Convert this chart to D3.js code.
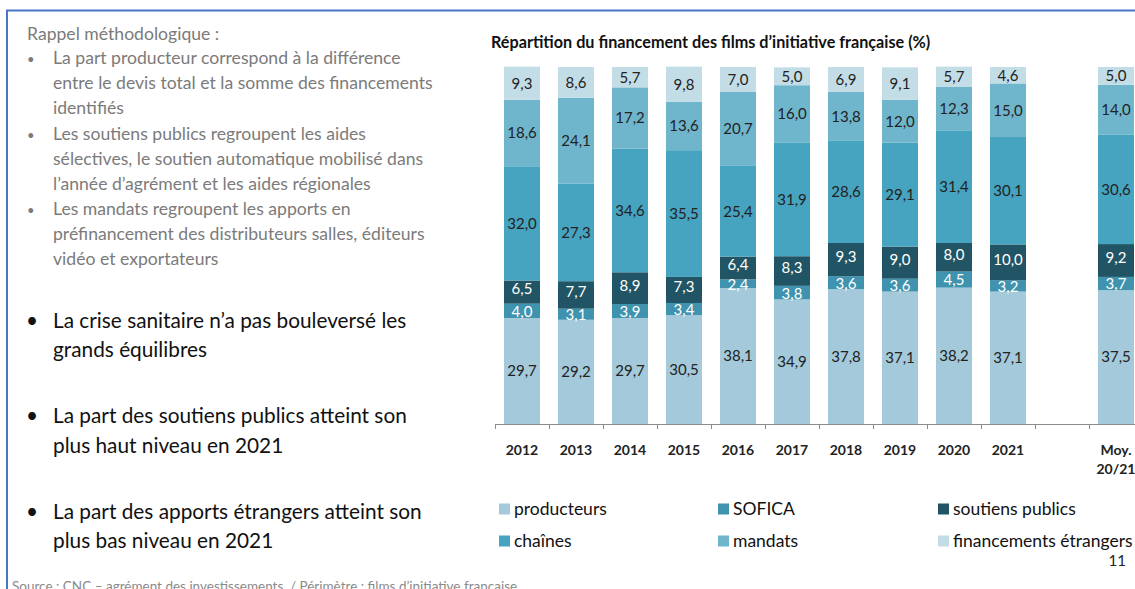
<!DOCTYPE html>
<html>
<head>
<meta charset="utf-8">
<script src="https://cdn.jsdelivr.net/npm/d3@7"></script>
<style>
  body { margin: 0; background: #fff; }
  svg { display: block; font-family: Lato, "Open Sans", sans-serif; }
</style>
</head>
<body>
<svg id="slide" width="1135" height="589"></svg>
<script>
// data
const categories = ['2012', '2013', '2014', '2015', '2016', '2017', '2018', '2019', '2020', '2021', 'Moy. 20/21'];
const producteurs = [29.7, 29.2, 29.7, 30.5, 38.1, 34.9, 37.8, 37.1, 38.2, 37.1, 37.5];
const sofica = [4.0, 3.1, 3.9, 3.4, 2.4, 3.8, 3.6, 3.6, 4.5, 3.2, 3.7];
const soutiensPublics = [6.5, 7.7, 8.9, 7.3, 6.4, 8.3, 9.3, 9.0, 8.0, 10.0, 9.2];
const chaines = [32.0, 27.3, 34.6, 35.5, 25.4, 31.9, 28.6, 29.1, 31.4, 30.1, 30.6];
const mandats = [18.6, 24.1, 17.2, 13.6, 20.7, 16.0, 13.8, 12.0, 12.3, 15.0, 14.0];
const etrangers = [9.3, 8.6, 5.7, 9.8, 7.0, 5.0, 6.9, 9.1, 5.7, 4.6, 5.0];

const seriesNames = ['producteurs', 'SOFICA', 'soutiens publics', 'chaînes', 'mandats', 'financements étrangers'];
const seriesValues = [producteurs, sofica, soutiensPublics, chaines, mandats, etrangers];
const seriesColors = ['#a3c9da', '#3f93ae', '#215565', '#46a4c0', '#6fb6cd', '#c2dde6'];
const labelColors = ['#222', '#fff', '#fff', '#222', '#222', '#222'];
const labelShift = [0, 0.5, -3, 0, 0, 0];

const methodoLines = [
  { text: 'Rappel méthodologique :', y: 40 },
  { text: 'La part producteur correspond à la différence', y: 63.5, bullet: true },
  { text: 'entre le devis total et la somme des financements', y: 88.5 },
  { text: 'identifiés', y: 113.5 },
  { text: 'Les soutiens publics regroupent les aides', y: 139.5, bullet: true },
  { text: 'sélectives, le soutien automatique mobilisé dans', y: 164.5 },
  { text: 'l’année d’agrément et les aides régionales', y: 189.5 },
  { text: 'Les mandats regroupent les apports en', y: 215, bullet: true },
  { text: 'préfinancement des distributeurs salles, éditeurs', y: 240 },
  { text: 'vidéo et exportateurs', y: 265 },
];
const keyLines = [
  { text: 'La crise sanitaire n’a pas bouleversé les', y: 328, bullet: true },
  { text: 'grands équilibres', y: 357 },
  { text: 'La part des soutiens publics atteint son', y: 423, bullet: true },
  { text: 'plus haut niveau en 2021', y: 452.5 },
  { text: 'La part des apports étrangers atteint son', y: 519, bullet: true },
  { text: 'plus bas niveau en 2021', y: 548 },
];

const fmt = (v) => v.toFixed(1).replace('.', ',');

const svg = d3.select('#slide');

// slide frame
svg.append('path')
  .attr('d', 'M7,589 V10.5 H1135')
  .attr('fill', 'none')
  .attr('stroke', '#4a76c6')
  .attr('stroke-width', 2);

// left text
const gm = svg.append('g').style('font-size', '17.6px').style('fill', '#7b7b7b');
methodoLines.forEach((l, i) => {
  gm.append('text').attr('x', i === 0 ? 27 : 53).attr('y', l.y).text(l.text);
  if (l.bullet) gm.append('text').attr('x', 27).attr('y', l.y).style('font-size', '13px').text('•');
});
const gk = svg.append('g').style('font-size', '20.8px').style('fill', '#111');
keyLines.forEach((l) => {
  gk.append('text').attr('x', 53).attr('y', l.y).text(l.text);
  if (l.bullet) gk.append('text').attr('x', 26).attr('y', l.y).text('•');
});

svg.append('text')
  .attr('x', 12).attr('y', 591)
  .style('font-size', '13.5px')
  .style('fill', '#8a8a8a')
  .text('Source : CNC – agrément des investissements. / Périmètre : films d’initiative française.');

// chart
svg.append('text')
  .attr('x', 491).attr('y', 48)
  .style('font-size', '16.2px')
  .style('font-weight', 'bold')
  .style('fill', '#111')
  .text('Répartition du financement des films d’initiative française (%)');

const slots = [...categories.slice(0, 10), 'gap', categories[10]];
const x = d3.scaleBand()
  .domain(slots)
  .range([495, 495 + 12 * 54])
  .paddingInner(1 / 3)
  .paddingOuter(1 / 6);
const y = d3.scaleLinear().domain([0, 100]).range([424, 67]);

const rows = categories.map((c, i) => {
  const r = { cat: c };
  seriesNames.forEach((s, k) => { r[s] = seriesValues[k][i]; });
  return r;
});
const stacked = d3.stack().keys(seriesNames)(rows);

const layers = svg.append('g').selectAll('g')
  .data(stacked)
  .join('g')
  .attr('fill', (d, k) => seriesColors[k]);

layers.selectAll('rect')
  .data((d) => d)
  .join('rect')
  .attr('x', (d) => x(d.data.cat))
  .attr('width', x.bandwidth())
  .attr('y', (d) => y(d[1]))
  .attr('height', (d) => y(d[0]) - y(d[1]));

const labels = svg.append('g')
  .style('font-size', '15px')
  .attr('text-anchor', 'middle');
stacked.forEach((layer, k) => {
  labels.selectAll(null)
    .data(layer)
    .join('text')
    .attr('x', (d) => x(d.data.cat) + x.bandwidth() / 2)
    .attr('y', (d) => (y(d[0]) + y(d[1])) / 2 + labelShift[k])
    .attr('dy', '0.36em')
    .style('fill', labelColors[k])
    .text((d) => fmt(d[1] - d[0]));
});

// x axis with ticks between slots
const axis = svg.append('g');
axis.append('line')
  .attr('x1', x.range()[0]).attr('x2', x.range()[1])
  .attr('y1', 424.5).attr('y2', 424.5)
  .attr('stroke', '#8c8c8c');
const step = x.step();
axis.selectAll('line.tick')
  .data(slots)
  .join('line')
  .attr('class', 'tick')
  .attr('x1', (d) => x(d) - step / 6 + 0.5)
  .attr('x2', (d) => x(d) - step / 6 + 0.5)
  .attr('y1', 424).attr('y2', 429)
  .attr('stroke', '#8c8c8c');

axis.selectAll('text')
  .data(categories)
  .join('text')
  .attr('x', (d) => x(d) + x.bandwidth() / 2)
  .attr('y', 455)
  .attr('text-anchor', 'middle')
  .style('font-size', '14px')
  .style('font-weight', 'bold')
  .style('fill', '#222')
  .each(function (d) {
    const parts = d.split(' ');
    d3.select(this).selectAll('tspan')
      .data(parts)
      .join('tspan')
      .attr('x', x(d) + x.bandwidth() / 2)
      .attr('dy', (p, i) => i === 0 ? 0 : 19)
      .text((p) => p);
  });

// legend
const legendPos = [[499, 509], [718, 509], [938, 509], [499, 541], [718, 541], [938, 541]];
const legend = svg.append('g').style('font-size', '17.5px').style('fill', '#111');
seriesNames.forEach((s, k) => {
  const [lx, ly] = legendPos[k];
  legend.append('rect')
    .attr('x', lx).attr('y', ly - 5.5)
    .attr('width', 11).attr('height', 11)
    .attr('fill', seriesColors[k]);
  legend.append('text')
    .attr('x', lx + 15).attr('y', ly)
    .attr('dy', '0.35em')
    .text(s);
});

svg.append('text')
  .attr('x', 1126).attr('y', 566)
  .attr('text-anchor', 'end')
  .style('font-size', '15px')
  .style('fill', '#222')
  .text('11');
</script>
</body>
</html>
